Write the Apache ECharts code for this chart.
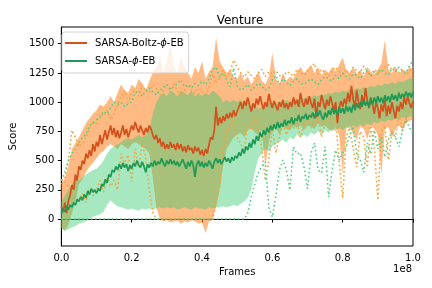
<!DOCTYPE html>
<html><head><meta charset="utf-8">
<script src="https://cdn.jsdelivr.net/npm/echarts@6/dist/echarts.min.js"></script>
<style>html,body{margin:0;padding:0;background:#fff}#c{width:432px;height:288px}</style>
</head><body><div id="c"></div>
<script>
// x in units of 1e8 frames
const meanStep = 0.005;
const bandStep = 0.01;
const xTicks = [0.0, 0.2, 0.4, 0.6, 0.8, 1.0];
const yTicks = [0, 250, 500, 750, 1000, 1250, 1500];
const seriesNames = ['SARSA-Boltz-ϕ-EB', 'SARSA-ϕ-EB'];

// mean curves (step 0.005)
const boltzMean = [110,60,140,50,160,200,290,250,380,330,
450,420,500,470,560,520,590,540,640,580,
660,620,720,640,700,760,680,740,800,720,
780,700,760,690,740,800,720,770,700,750,
800,760,830,780,740,800,760,720,780,740,
800,770,720,680,720,650,690,620,660,600,
640,600,660,610,640,590,650,600,640,580,
620,570,630,590,610,560,620,580,610,550,
590,540,600,560,640,700,680,760,960,800,
870,820,880,840,900,860,910,870,930,880,
920,960,1000,940,1010,970,1040,980,920,990,
950,1030,980,1050,990,940,1000,960,1070,1000,
950,1010,970,930,1000,960,1020,950,990,940,
1000,960,1040,980,1020,960,1080,1000,960,1030,
980,1050,990,950,1030,870,1000,960,1060,1000,
940,1020,970,1050,990,930,1000,820,950,1010,
960,1030,980,1080,1000,1140,1020,960,1100,1000,
940,1060,980,1120,1010,950,1040,980,900,1000,
950,860,980,920,1020,880,970,900,1000,930,
860,970,920,1000,940,1040,980,1050,990,950,
1010];
const phiMean = [40,90,60,110,80,120,100,140,120,170,
150,190,160,210,180,240,210,260,230,250,
220,260,240,300,280,340,310,380,360,420,
400,450,420,470,430,480,440,470,410,460,
430,480,450,500,460,440,490,450,400,470,
440,480,450,500,460,490,470,520,480,450,
500,470,510,470,500,460,490,450,480,510,
470,430,490,450,500,460,360,470,500,450,
490,440,480,450,500,470,430,490,520,480,
510,470,500,530,490,520,480,530,500,540,
520,570,540,600,560,620,590,650,610,680,
640,710,670,740,700,760,720,780,740,800,
760,810,770,830,780,820,790,850,800,840,
820,870,810,860,840,890,830,880,860,900,
850,890,870,910,860,920,880,930,880,850,
910,870,930,890,950,900,940,890,960,910,
950,900,970,920,960,910,980,930,990,950,
1000,960,1020,970,1010,960,1030,980,1040,990,
1050,1000,1040,990,1060,1010,1050,1000,1070,1020,
1060,1010,1080,1030,1070,1040,1090,1050,1080,1040,
1090];

// spread bands (step 0.01)
const boltzHi = [300,350,450,600,650,700,760,820,860,900,
930,980,960,1000,1050,1000,1080,1150,1100,1080,
1150,1120,1200,1160,1100,1180,1250,1300,1400,1250,
1350,1500,1300,1250,1400,1300,1250,1200,1300,1250,
1350,1200,1260,1300,1550,1350,1300,1250,1280,1220,
1200,1250,1180,1220,1150,1200,1260,1180,1150,1220,
1420,1200,1150,1250,1180,1220,1200,1260,1300,1250,
1280,1320,1250,1300,1230,1280,1250,1300,1260,1320,
1380,1280,1250,1300,1240,1280,1220,1300,1260,1240,
1280,1330,1530,1280,1250,1300,1240,1280,1260,1300,
1280];
const boltzLo = [-80,-100,-50,50,150,300,340,400,450,480,
520,560,580,620,640,620,600,640,620,600,
640,660,640,620,600,560,350,100,0,-20,
-10,-30,-20,-10,-40,-20,-30,-10,-20,-40,
-30,-120,-20,-10,100,250,450,600,650,700,
720,740,700,760,780,740,720,760,450,660,
760,780,720,790,770,760,800,780,800,760,
800,790,770,820,790,800,770,750,790,720,
380,770,800,720,680,790,770,680,800,770,
720,380,770,790,700,770,800,770,820,840,
850];
const phiHi = [150,200,250,300,350,330,360,380,400,420,
430,460,500,560,600,620,640,660,680,690,
680,700,720,700,720,760,900,1000,1050,1080,
1050,1100,1080,1050,1100,1080,1060,1100,1050,1080,
1050,1080,1060,1100,1080,1050,1000,1020,1000,1020,
1000,1020,980,1000,960,980,940,960,980,990,
1000,980,1010,990,1020,1000,1030,1010,1040,1030,
1050,1040,1060,1050,1070,1060,1080,1070,1090,1080,
1100,1090,1110,1100,1120,1110,1130,1120,1140,1130,
1150,1140,1160,1150,1170,1160,1180,1170,1190,1200,
1210];
const phiLo = [-80,-100,-90,-70,-60,-40,-30,-20,0,20,
30,40,60,120,160,130,110,100,90,80,
90,80,70,90,80,90,80,90,100,90,
100,90,100,80,90,100,90,80,100,90,
90,80,100,90,100,100,110,100,110,120,
110,130,150,180,250,400,520,560,600,580,
620,640,660,680,650,700,680,720,700,720,
700,740,720,750,720,760,740,770,750,780,
760,790,770,800,780,810,790,820,800,830,
820,840,830,850,840,860,850,870,860,880,
880];

// individual runs shown dotted (step 0.01)
const boltzRunA = [330,350,500,760,700,620,650,700,780,820,
820,900,880,930,850,900,980,1050,1100,1000,
1080,1100,1050,1150,1100,1080,1150,1120,1060,1100,
1150,1100,1150,1100,1050,1100,1150,1100,1080,1120,
1100,1060,1120,1240,1160,1200,1275,1215,1260,1360,
1300,1250,1215,1260,1230,1200,1250,1280,1220,1260,
1240,1270,1230,1210,1260,1250,1220,1280,1250,1230,
1270,1300,1330,1240,1280,1250,1220,1270,1300,1260,
1240,1280,1230,1300,1270,1250,1310,1260,1230,1280,
1250,1270,1300,1320,1280,1300,1250,1270,1230,1260,
1300];
const boltzRunB = [300,320,280,250,200,150,220,140,250,200,
250,330,230,350,280,330,250,560,480,550,
320,600,450,640,530,250,60,0,0,0,
0,0,0,0,0,0,0,0,0,0,
0,0,0,0,150,270,600,740,800,870,
700,640,590,800,760,860,820,600,330,500,
780,565,700,820,720,800,780,830,700,800,
850,780,820,870,700,820,900,800,850,500,
180,700,780,600,445,750,700,440,800,600,
163,750,800,505,750,700,900,750,850,950,
1000];
const phiRunA = [330,400,500,560,600,650,700,720,800,820,
850,870,920,900,950,1000,980,1000,960,990,
1000,1080,1100,1050,1100,1120,1090,1060,1100,1130,
1150,1110,1130,1160,1190,1130,1150,1120,1160,1140,
1180,1150,1200,1275,1300,1215,1250,1190,1130,1290,
1140,1100,1120,1150,1100,1130,1160,1140,1100,1120,
1190,1230,1150,1200,1170,1140,1180,1200,1160,1150,
1180,1200,1170,1150,1190,1220,1200,1180,1230,1200,
1250,1220,1200,1240,1230,1200,1250,1270,1220,1260,
1240,1280,1250,1230,1290,1260,1300,1270,1250,1310,
1360];
const phiRunB = [0,0,0,0,0,0,0,0,0,0,
0,0,0,0,0,0,0,0,0,0,
0,0,0,0,0,0,0,0,0,0,
0,0,0,0,0,0,0,0,0,0,
0,0,0,0,0,0,0,0,0,0,
0,0,0,50,188,300,393,450,488,100,
17,200,420,505,420,248,616,556,565,445,
260,565,650,420,394,620,188,420,590,505,
560,616,720,790,556,505,400,650,556,760,
600,700,530,680,750,700,620,760,850,780,
730];

function pts(arr, step) { return arr.map((v, i) => [+(i * step).toFixed(4), v]); }

const FONT = 'DejaVu Sans';
const C = {
  boltz: '#d4501c', phi: '#1f9a55',
  boltzFill: 'rgba(255,135,40,0.58)', phiFill: 'rgba(60,205,115,0.45)',
  boltzDot: '#f7a23a', phiDot: '#52d184'
};

// band drawn as one polygon through the axis scales
function band(lo, hi, fill) {
  const data = lo.map((v, i) => [+(i * bandStep).toFixed(4), v, hi[i]]);
  return {
    type: 'custom', data: data, encode: { x: 0, y: [1, 2] }, silent: true, clip: true,
    renderItem: function (params, api) {
      if (params.dataIndex !== 0) return null;
      const up = data.map(d => api.coord([d[0], d[2]]));
      const down = data.map(d => api.coord([d[0], d[1]])).reverse();
      return { type: 'polygon', shape: { points: up.concat(down) }, style: { fill: fill } };
    }
  };
}
function dotted(arr, color, name) {
  return { type: 'line', name: name, data: pts(arr, bandStep), symbol: 'none',
    lineStyle: { color: color, width: 1.6, type: [1.6, 2.6] }, silent: true };
}

const option = {
  animation: false,
  backgroundColor: '#fff',
  title: { text: 'Venture', left: 235, top: 10, textAlign: 'center',
    textStyle: { fontFamily: FONT, fontSize: 12, fontWeight: 'normal', color: '#000' } },
  grid: { left: 57, right: 19, top: 27, bottom: 42, show: true, borderColor: '#000', borderWidth: 1, backgroundColor: 'transparent' },
  xAxis: { type: 'value', min: 0, max: 1, interval: 0.2,
    name: 'Frames', nameLocation: 'middle', nameGap: 21,
    nameTextStyle: { fontFamily: FONT, fontSize: 10, color: '#000' },
    axisLine: { lineStyle: { color: '#000', width: 1 } },
    axisTick: { length: 3.5, lineStyle: { color: '#000' }, customValues: xTicks },
    axisLabel: { fontFamily: FONT, fontSize: 10, color: '#000', margin: 7, customValues: xTicks,
      formatter: v => v.toFixed(1) },
    splitLine: { show: false } },
  yAxis: { type: 'value', min: -231, max: 1643,
    name: 'Score', nameLocation: 'middle', nameGap: 38,
    nameTextStyle: { fontFamily: FONT, fontSize: 10, color: '#000' },
    axisLine: { show: true, lineStyle: { color: '#000', width: 1 } },
    axisTick: { show: true, length: 3.5, lineStyle: { color: '#000' }, customValues: yTicks },
    axisLabel: { fontFamily: FONT, fontSize: 10, color: '#000', margin: 7, customValues: yTicks,
      formatter: v => String(v) },
    splitLine: { show: false } },
  legend: {
    left: 62, top: 32, orient: 'vertical',
    data: [{ name: seriesNames[0], icon: 'rect' }, { name: seriesNames[1], icon: 'rect' }],
    itemWidth: 22, itemHeight: 2, itemGap: 6,
    padding: [5, 5, 6, 3],
    borderColor: '#d0d0d0', borderWidth: 1, borderRadius: 3, backgroundColor: 'rgba(255,255,255,0.8)',
    formatter: n => n.replace('ϕ', '{i|ϕ}'),
    textStyle: { fontFamily: FONT, fontSize: 10, color: '#000', lineHeight: 12, padding: [0, 0, 0, 3],
      rich: { i: { fontFamily: FONT, fontSize: 10, fontStyle: 'italic', color: '#000' } } }
  },
  graphic: [{ type: 'text', right: 20, top: 264, style: { text: '1e8', font: '10px "DejaVu Sans"', fill: '#000' } }],
  series: [
    band(boltzLo, boltzHi, C.boltzFill),
    band(phiLo, phiHi, C.phiFill),
    dotted(boltzRunA, C.boltzDot, 'oA'),
    dotted(boltzRunB, C.boltzDot, 'oB'),
    dotted(phiRunA, C.phiDot, 'gA'),
    dotted(phiRunB, C.phiDot, 'gB'),
    { type: 'line', name: seriesNames[0], data: pts(boltzMean, meanStep), symbol: 'none',
      color: C.boltz, lineStyle: { color: C.boltz, width: 1.7 }, itemStyle: { color: C.boltz } },
    { type: 'line', name: seriesNames[1], data: pts(phiMean, meanStep), symbol: 'none',
      color: C.phi, lineStyle: { color: C.phi, width: 1.7 }, itemStyle: { color: C.phi } }
  ]
};
echarts.init(document.getElementById('c'), null, { renderer: 'canvas' }).setOption(option);
</script></body></html>
